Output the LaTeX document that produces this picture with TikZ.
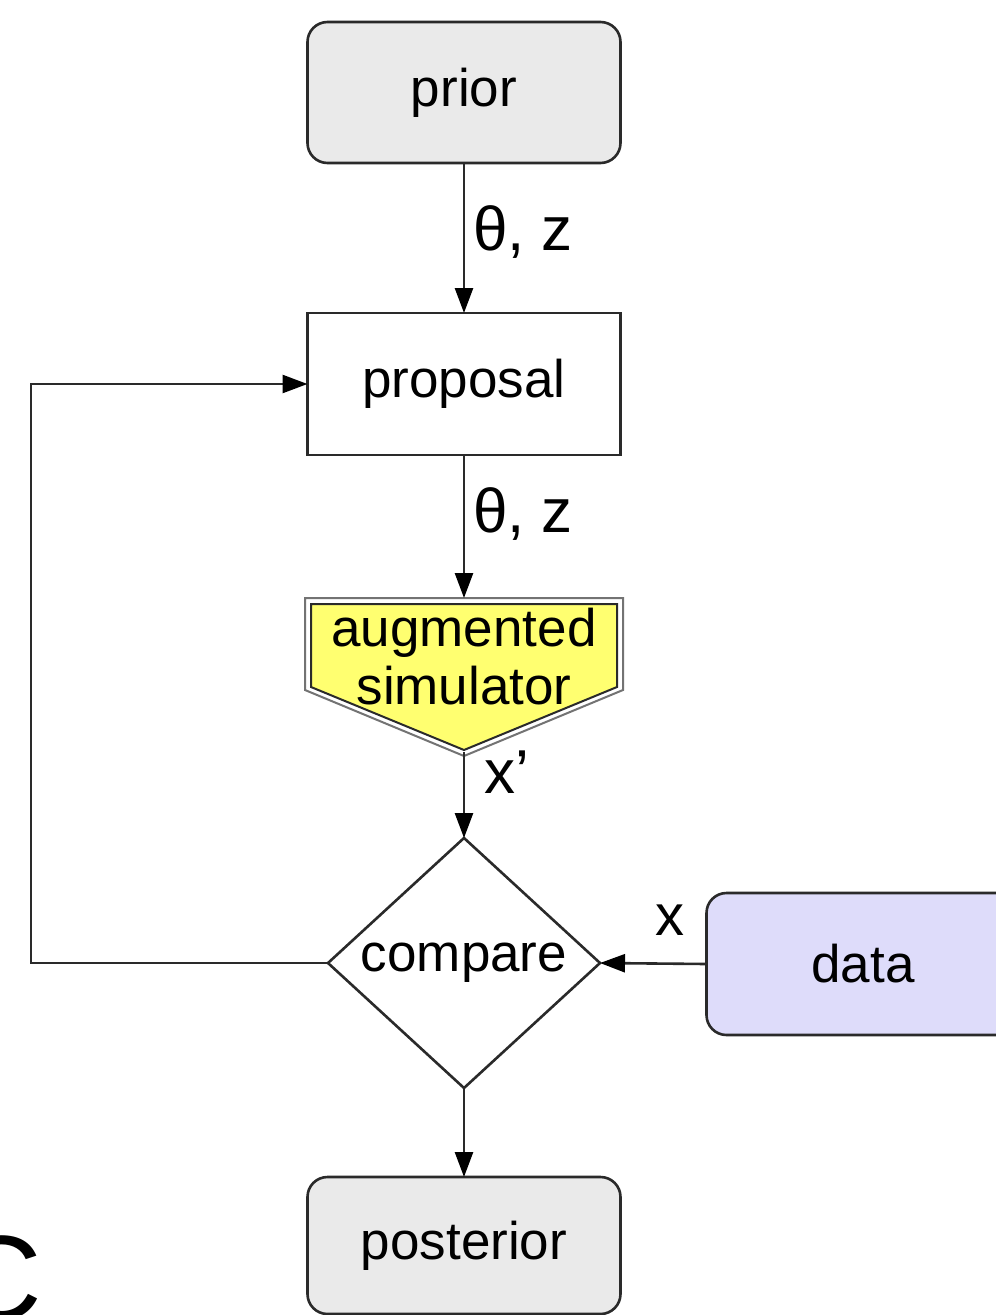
\documentclass[tikz,border=0pt]{standalone}
\usepackage{fontspec}
\setmainfont{Liberation Sans}
\usetikzlibrary{arrows.meta,shapes.geometric}
\definecolor{linec}{HTML}{2A2A2A}
\definecolor{greyfill}{HTML}{EAEAEA}
\definecolor{datafill}{HTML}{DEDCFA}
\definecolor{simfill}{HTML}{FFFF70}
\begin{document}
\begin{tikzpicture}[x=1pt,y=-1pt,
  every node/.style={font=\fontsize{53}{60}\selectfont, inner sep=0pt, outer sep=0pt},
  roundbox/.style={draw=linec, line width=2.6pt, rounded corners=20pt, fill=greyfill,
                   minimum width=313pt, minimum height=141pt},
  plainbox/.style={draw=linec, line width=2.6pt, fill=white,
                   minimum width=313pt, minimum height=142pt},
  decide/.style={diamond, draw=linec, line width=2.6pt, fill=white,
                 minimum width=272pt, minimum height=250pt, inner sep=0pt},
  conn/.style={draw=linec, line width=2.6pt, -{Triangle[length=25pt,width=18pt,fill=black,color=black]}},
  lbl/.style={font=\fontsize{62}{70}\selectfont}
]
\useasboundingbox (0,0) rectangle (996,1315);
\clip (0,0) rectangle (996,1315);
\fill[white] (0,0) rectangle (996,1315);

% nodes
\node[roundbox] (prior) at (464,92.5) {prior};
\node[plainbox] (proposal) at (464,384) {proposal};

% augmented simulator shape
\draw[draw=black!55, line width=2pt, fill=white]
  (305,598) -- (623,598) -- (623,690) -- (464,756) -- (305,690) -- cycle;
\draw[draw=linec, line width=2pt, fill=simfill]
  (311,604) -- (617,604) -- (617,687) -- (464,750) -- (311,687) -- cycle;
\coordinate (simtop) at (464,598);
\coordinate (simbot) at (464,752);
\node[align=center, font=\fontsize{53}{58}\selectfont] (sim) at (464,657) {augmented\\simulator};

\node[decide] (compare) at (464,963) {compare};
\node[roundbox, fill=datafill, minimum width=313pt, minimum height=142pt] (data) at (863,964) {data};
\node[roundbox, minimum height=137pt] (posterior) at (464,1245.5) {posterior};

\coordinate (loopL) at (31,963);
\coordinate (loopT) at (31,384);

% connectors
\draw[conn] (prior.south) -- (proposal.north);
\draw[conn] (proposal.south) -- (simtop);
\draw[conn] (simbot) -- (compare.north);
\draw[conn] (data.west) -- (compare.east);
\draw[conn] (compare.south) -- (posterior.north);
\draw[conn] (compare.west) -- (loopL) -- (loopT) -- (proposal.west);

% labels
\node[lbl, anchor=base west] (l1) at (473,250) {θ, z};
\node[lbl, anchor=base west] (l2) at (473,532) {θ, z};
\node[lbl, anchor=base west] (l3) at (484,793) {x’};
\node[lbl, anchor=base west, font=\fontsize{58}{64}\selectfont] (l4) at (655,935) {x};

% partial letter at the lower left (cut off by the edge, as in the reference)
\node[anchor=base west, font=\fontsize{120}{130}\selectfont] (cletter) at (-44,1319) {C};
\end{tikzpicture}
\end{document}
